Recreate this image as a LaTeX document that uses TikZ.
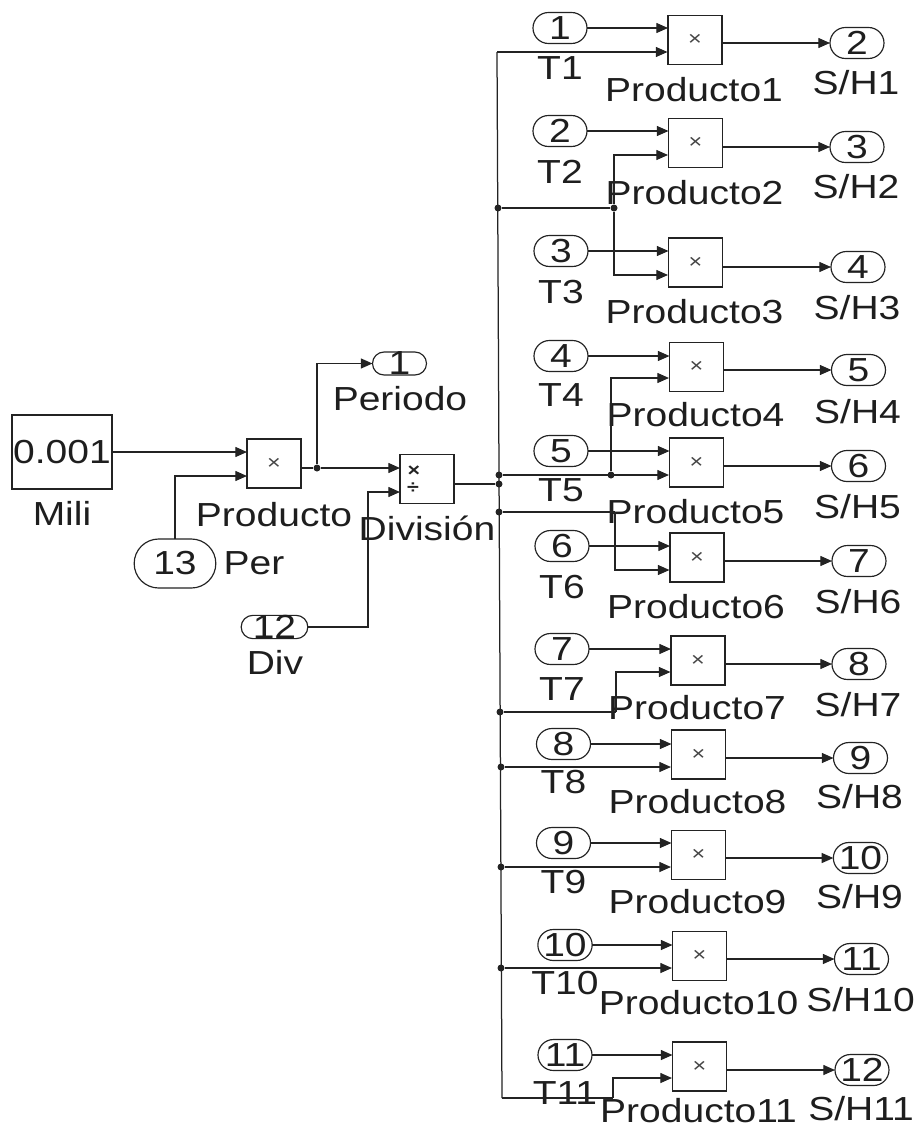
\documentclass[tikz,border=0pt]{standalone}
\usepackage{fontspec}
\setmainfont{Liberation Sans}[FakeStretch=1.17]
\usetikzlibrary{shapes.misc,arrows.meta,calc}
\definecolor{SimLine}{RGB}{35,35,35}
\definecolor{SimText}{RGB}{30,30,30}
\definecolor{SimMark}{RGB}{70,70,70}
\tikzset{
  nd_prod/.style={
    rectangle, draw=SimLine, fill=white, line width=0.8pt,
    minimum width=32.4pt, minimum height=29.4pt,
    inner sep=0pt, outer sep=0pt,
    text=SimMark, font=\fontsize{12}{12}\selectfont},
  nd_port/.style={
    rounded rectangle, draw=SimLine, line width=0.7pt,
    minimum width=32.4pt, minimum height=18.6pt,
    inner sep=0pt, outer sep=0pt,
    text=SimText, font=\fontsize{20}{24}\selectfont},
  nd_const/.style={
    rectangle, draw=SimLine, line width=0.8pt,
    minimum width=60pt, minimum height=44.4pt,
    inner sep=0pt, outer sep=0pt,
    text=SimText, font=\fontsize{20}{24}\selectfont},
  nd_dot/.style={
    circle, fill=SimLine, minimum size=4.2pt, inner sep=0pt},
  arr/.style={-{Triangle[length=7pt,width=6pt]},line width=0.75pt,draw=SimLine},
  wire/.style={line width=0.75pt,draw=SimLine},
  lbl/.style={text=SimText,inner sep=0pt,font=\fontsize{20}{24}\selectfont},
  mrk/.style={text=SimLine,inner sep=0pt,font=\fontsize{11}{11}\selectfont\bfseries},
}
\begin{document}
\begin{tikzpicture}[x=0.6pt,y=-0.6pt]
\useasboundingbox (0,0) rectangle (920,1129);

\node[nd_const] (Mili) at (62,452) {0.001};
\node[lbl] (MiliL) at (62,513) {Mili};
\node[nd_prod] (Prod) at (274,463.5) {×};
\node[lbl] (ProdL) at (274,515) {Producto};
\node[nd_port,minimum width=49pt,minimum height=29.4pt] (Per) at (175,563.5) {13};
\node[lbl] (PerL) at (254,563) {Per};
\node[nd_port,minimum height=12.6pt] (Peri) at (399.5,363.5) {1};
\node[lbl] (PeriL) at (400,399) {Periodo};
\node[nd_port,minimum height=13pt] (DivI) at (274.5,627) {12};
\node[lbl] (DivL) at (275,662) {Div};
\node[nd_prod] (Divi) at (427,479) {};
\node[mrk] (DivM) at (414,471) {×};
\node[mrk] (DivN) at (413,488) {÷};
\node[lbl] (DiviL) at (427,528) {División};

\node[nd_dot] (JP) at (317,468) {};
\node[nd_dot] (J2) at (498,208) {};
\node[nd_dot] (J5) at (499,475) {};
\node[nd_dot] (JD) at (499,484) {};
\node[nd_dot] (J6) at (499,512) {};
\node[nd_dot] (J7) at (500,712) {};
\node[nd_dot] (J8) at (501,767) {};
\node[nd_dot] (J9) at (501,867) {};
\node[nd_dot] (J10) at (501,968) {};
\node[nd_dot] (Q2) at (614,208) {};
\node[nd_dot] (Q5) at (611,475) {};
\coordinate (Q6) at (615,512);
\coordinate (Q7) at (616,712);
\coordinate (Q11) at (613,1098);
\coordinate (BusT) at (497,52);
\coordinate (BusB) at (502,1098);

\foreach \n/\bx/\by/\ly/\tx/\ty/\sx/\sy/\sn/\pl/\tl/\sl in {
  1/695/40/52/560/28/857/43/2/90/68/83,
  2/695.5/143/155/560/131/857/147/3/193/172/187,
  3/695.5/262.5/275/561/251/858/267/4/312/292/308,
  4/696.5/367/378/561/356/858.5/370/5/415/395/412,
  5/696.5/462.5/475/561/451/858.5/466/6/512/490/507,
  6/697/557.5/570/562/546/859/561/7/607/587/602,
  7/698/660.5/672/562/649/859/664/8/708/689/705,
  8/698.5/754.5/767/563.5/744/860.5/758/9/802/782/797,
  9/698.5/855/867/563.5/843/860.5/858/10/902/882/897,
  10/699.5/956/968/565/945/861.5/959/11/1003/983/1000,
  11/699.5/1066.5/1078/565/1055/862/1070/12/1111/1093/1109}{
  \node[nd_prod] (P\n) at (\bx,\by) {×};
  \node[lbl] (PL\n) at (\bx-1,\pl) {Producto\n};
  \node[nd_port] (T\n) at (\tx,\ty) {\n};
  \node[lbl] (TL\n) at (\tx,\tl) {T\n};
  \node[nd_port] (S\n) at (\sx,\sy) {\sn};
  \node[lbl] (SL\n) at (\sx-1,\sl) {S/H\n};
  \coordinate (I\n) at (\bx-27.5,\ly);
  \draw[arr] (T\n.east) -- (P\n.west |- T\n.east);
  \draw[arr] (P\n.east |- S\n.west) -- (S\n.west);
}

\draw[arr] (Mili.east) -- (Prod.west |- Mili.east);
\draw[arr] (Per.north) |- (Prod.west |- 0,476);
\draw[wire] (Prod.east |- JP) -- (JP);
\draw[arr] (JP) -- (Divi.west |- JP);
\draw[arr] (JP) |- (Peri.west);
\draw[arr] (DivI.east) -| (368,560) |- (Divi.west |- 0,492);
\draw[wire] (Divi.east |- JD) -- (JD);

\draw[wire] (BusT) -- (BusB);
\draw[arr] (BusT) -- (I1);
\draw[wire] (J2) -- (Q2);
\draw[arr] (Q2) |- (I2);
\draw[arr] (Q2) |- (I3);
\draw[arr] (Q5) |- (I4);
\draw[arr] (J5) -- (I5);
\draw[wire] (J6) -- (Q6);
\draw[arr] (Q6) |- (I6);
\draw[wire] (J7) -- (Q7);
\draw[arr] (Q7) |- (I7);
\draw[arr] (J8) -- (I8);
\draw[arr] (J9) -- (I9);
\draw[arr] (J10) -- (I10);
\draw[wire] (BusB) -- (Q11);
\draw[arr] (Q11) |- (I11);
\end{tikzpicture}
\end{document}
